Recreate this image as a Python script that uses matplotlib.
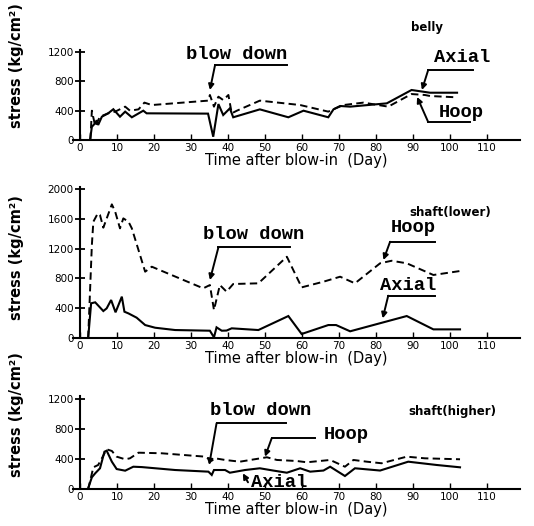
import matplotlib
matplotlib.use("Agg")
import matplotlib.pyplot as plt

# ---------------- data (day, stress kg/cm2) ----------------
belly_axial_day = [2.7, 3.2, 4.1, 4.5, 4.9, 5.9, 7.6, 9.0, 10.8, 12.2, 14.0, 17.1, 18.0, 34.6, 36.0, 37.4,
                   38.7, 40.5, 41.4, 48.6, 56.3, 60.4, 67.1, 68.5, 70.3, 73.0, 82.9, 89.6, 94.6, 101.9]
belly_axial_val = [0, 180, 230, 270, 205, 318, 364, 420, 318, 387, 310, 400, 364, 360, 45, 490,
                   341, 432, 310, 418, 310, 400, 310, 418, 464, 455, 500, 682, 645, 645]
belly_hoop_day = [2.8, 3.2, 4.1, 5.4, 7.6, 9.5, 12.2, 13.5, 15.8, 17.4, 19.4, 34.6, 35.1, 36.2, 37.4, 38.7,
                  40.1, 41.0, 42.4, 48.6, 59.5, 67.1, 68.5, 71.2, 76.6, 83.3, 89.6, 93.2, 94.6, 101.9]
belly_hoop_val = [0, 400, 190, 318, 364, 387, 455, 400, 418, 510, 477, 537, 614, 455, 591, 545,
                  614, 364, 400, 537, 477, 387, 420, 477, 510, 455, 627, 614, 600, 582]

lower_axial_day = [2.2, 3.0, 4.1, 6.3, 7.2, 8.4, 9.6, 11.3, 12.0, 13.1, 15.3, 17.6, 20.3, 25.7, 35.1, 36.2,
                   36.9, 38.3, 39.6, 41.0, 48.2, 56.3, 59.9, 67.1, 69.2, 73.0, 88.3, 95.5, 102.7]
lower_axial_val = [0, 466, 479, 362, 398, 510, 345, 555, 353, 330, 273, 174, 138, 107, 98, 9,
                   143, 98, 100, 130, 107, 295, 54, 174, 174, 90, 295, 116, 116]
lower_hoop_day = [2.2, 3.2, 3.6, 4.8, 5.4, 6.3, 8.6, 9.5, 10.8, 11.7, 13.1, 14.0, 17.6, 19.4, 33.3, 35.1,
                  36.2, 37.8, 39.6, 41.4, 48.2, 55.9, 59.9, 65.8, 70.3, 74.3, 81.1, 84.2, 88.3, 95.5, 103.2]
lower_hoop_val = [0, 1248, 1561, 1673, 1650, 1481, 1794, 1696, 1472, 1606, 1561, 1472, 890, 957, 667, 711,
                  376, 711, 622, 725, 734, 1091, 680, 756, 823, 734, 1003, 1037, 1003, 846, 903]

higher_axial_day = [2.1, 3.2, 4.1, 5.4, 6.6, 7.2, 8.6, 9.9, 12.2, 14.4, 16.7, 25.7, 34.7, 35.6, 36.2, 39.2,
                    40.5, 44.6, 48.6, 52.2, 55.9, 59.5, 62.2, 65.8, 67.6, 71.6, 74.3, 81.1, 88.7, 96.4, 102.7]
higher_axial_val = [0, 160, 213, 280, 501, 515, 368, 270, 248, 301, 296, 257, 235, 191, 257, 257,
                    221, 257, 280, 250, 221, 280, 235, 250, 301, 177, 280, 250, 368, 324, 293]
higher_hoop_day = [2.2, 3.6, 4.9, 5.9, 7.2, 8.6, 9.9, 12.2, 13.5, 15.8, 22.1, 33.8, 35.6, 36.5, 39.2, 43.2,
                   50.5, 53.2, 58.6, 61.3, 67.6, 71.6, 73.9, 77.5, 81.5, 88.3, 93.2, 102.7]
higher_hoop_val = [0, 293, 324, 413, 533, 511, 435, 400, 413, 488, 480, 435, 381, 413, 391, 368,
                   427, 391, 377, 360, 391, 301, 391, 368, 347, 435, 413, 400]

x_ticks = [0, 10, 20, 30, 40, 50, 60, 70, 80, 90, 100, 110]
y_ticks_belly = [0, 400, 800, 1200]
y_ticks_lower = [0, 400, 800, 1200, 1600, 2000]
y_ticks_higher = [0, 400, 800, 1200]

# annotation texts / leader paths (x in days, y in stress)
panels = [
    dict(ax_rect=[0.136, 0.7338, 0.8384, 0.1715], ylim=1230, yticks=y_ticks_belly,
         axial=(belly_axial_day, belly_axial_val), hoop=(belly_hoop_day, belly_hoop_val),
         title="belly", title_xy=(93.8, 1528), ylabel_y=0.83,
         texts=[("blow down", 42.4, 1160), ("Axial", 103.2, 1119), ("Hoop", 103.0, 382)],
         leaders=[[(55.9, 1023), (36.5, 1023), (35.1, 682)],
                  [(106.2, 955), (94.1, 955), (92.4, 682)],
                  [(105.4, 245), (94.1, 245), (91.1, 587)]]),
    dict(ax_rect=[0.136, 0.3574, 0.8384, 0.2875], ylim=2030, yticks=y_ticks_lower,
         axial=(lower_axial_day, lower_axial_val), hoop=(lower_hoop_day, lower_hoop_val),
         title="shaft(lower)", title_xy=(100.0, 1691), ylabel_y=0.53,
         texts=[("blow down", 46.8, 1383), ("Hoop", 90.0, 1477), ("Axial", 88.6, 711)],
         leaders=[[(56.8, 1217), (37.4, 1217), (35.1, 778)],
                  [(95.9, 1292), (83.8, 1292), (82.0, 1047)],
                  [(95.9, 568), (83.3, 568), (81.8, 264)]]),
    dict(ax_rect=[0.136, 0.0698, 0.8384, 0.1768], ylim=1240, yticks=y_ticks_higher,
         axial=(higher_axial_day, higher_axial_val), hoop=(higher_hoop_day, higher_hoop_val),
         title="shaft(higher)", title_xy=(100.5, 1035), ylabel_y=0.80,
         texts=[("blow down", 48.9, 1057), ("Hoop", 71.9, 724), ("Axial", 53.8, 93)],
         leaders=[[(55.7, 880), (36.9, 880), (34.9, 324)],
                  [(63.5, 680), (51.8, 680), (50.0, 435)],
                  [(45.4, 93), (44.0, 213)]]),
]

fig = plt.figure(figsize=(5.34, 5.26), dpi=100)
mono = "Liberation Mono"

for p in panels:
    ax = fig.add_axes(p["ax_rect"])
    ax.set_xlim(-2, 119)
    ax.set_ylim(0, p["ylim"])
    for s in ("top", "right"):
        ax.spines[s].set_visible(False)
    ax.spines["left"].set_position(("data", 0))
    ax.spines["left"].set_linewidth(1.5)
    ax.spines["bottom"].set_linewidth(1.5)
    ax.set_xticks(x_ticks)
    ax.set_yticks(p["yticks"])
    ax.tick_params(axis="x", direction="in", length=4, width=1, labelsize=7.5, pad=2)
    ax.tick_params(axis="y", direction="inout", length=7, width=1.3, labelsize=7.5, pad=1)
    ax.plot(*p["axial"], color="black", lw=1.5, solid_joinstyle="miter")
    ax.plot(*p["hoop"], color="black", lw=1.4, ls=(0, (3.8, 2.2)))
    ax.set_xlabel("Time after blow-in  (Day)", fontsize=10.5, labelpad=0)
    ax.set_ylabel("stress (kg/cm²)", fontsize=10.5, fontweight="bold")
    ax.yaxis.set_label_coords(-0.108, p["ylabel_y"])
    ax.text(p["title_xy"][0], p["title_xy"][1], p["title"], fontsize=8.5, fontweight="bold",
            ha="center", va="center", clip_on=False)
    for t, x, y in p["texts"]:
        ax.text(x, y, t, family=mono, fontsize=13.5, fontweight="bold",
                ha="center", va="center", clip_on=False)
    for path in p["leaders"]:
        xs = [q[0] for q in path[:-1]]
        ys = [q[1] for q in path[:-1]]
        if len(xs) > 1:
            ax.plot(xs, ys, color="black", lw=1.4, clip_on=False)
        ax.annotate("", xy=path[-1], xytext=path[-2], annotation_clip=False,
                    arrowprops=dict(arrowstyle="-|>", lw=1.4, color="black",
                                    mutation_scale=8, shrinkA=0, shrinkB=0))

fig.savefig("out.png", dpi=100)
